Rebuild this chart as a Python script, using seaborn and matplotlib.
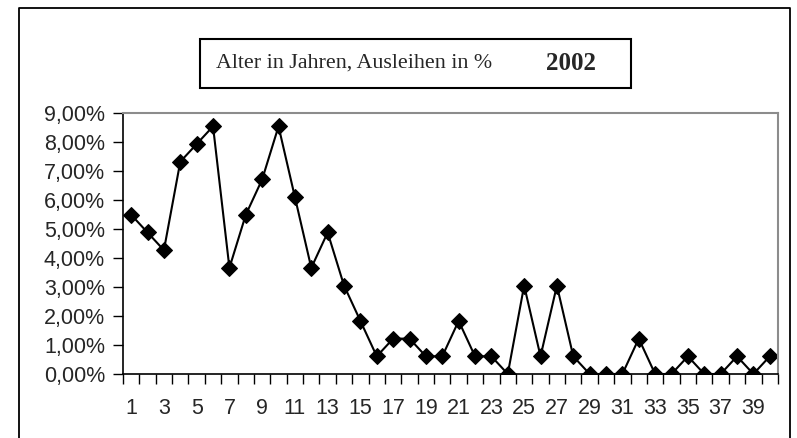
import pandas as pd
import seaborn as sns
import matplotlib.pyplot as plt
from matplotlib.ticker import FuncFormatter, MultipleLocator
from matplotlib.lines import Line2D

# Alter in Jahren und Anteil der Ausleihen (in %)
alter = list(range(1, 41))
ausleihen = [5.49, 4.88, 4.27, 7.32, 7.93, 8.54, 3.66, 5.49, 6.71, 8.54,
             6.10, 3.66, 4.88, 3.05, 1.83, 0.61, 1.22, 1.22, 0.61, 0.61,
             1.83, 0.61, 0.61, 0.00, 3.05, 0.61, 3.05, 0.61, 0.00, 0.00,
             0.00, 1.22, 0.00, 0.00, 0.61, 0.00, 0.00, 0.61, 0.00, 0.61]
jahr = "2002"
titel = "Alter in Jahren, Ausleihen in %"

data = pd.DataFrame({"Alter": alter, "Ausleihen": ausleihen})

sns.set_style("white")
plt.rcParams['font.family'] = ['Liberation Sans', 'DejaVu Sans']

fig = plt.figure(figsize=(7.97, 4.38), dpi=100)
ax = fig.add_axes([0.1543, 0.1461, 0.8218, 0.5959])

sns.lineplot(data=data, x="Alter", y="Ausleihen", ax=ax, color="black",
             marker="D", markersize=8, markeredgecolor="black", linewidth=1.5)

ax.set_xlim(0.5, 40.5)
ax.set_ylim(0, 9)
ax.set_xticks(alter[::2])
ax.xaxis.set_minor_locator(MultipleLocator(1, offset=0.5))
ax.yaxis.set_major_locator(MultipleLocator(1))
ax.yaxis.set_major_formatter(FuncFormatter(lambda v, p: f"{v:.2f}%".replace(".", ",")))
ax.tick_params(axis="x", which="major", length=0, pad=17, labelsize=15.5)
ax.tick_params(axis="x", which="minor", length=7, width=1, direction="out", color="black", bottom=True)
ax.tick_params(axis="y", length=7, width=1, direction="out", color="black", left=True, pad=6, labelsize=15.5)
ax.set_xlabel("")
ax.set_ylabel("")

for s in ["left", "bottom"]:
    ax.spines[s].set_color("black")
    ax.spines[s].set_linewidth(1.2)
for s in ["top", "right"]:
    ax.spines[s].set_color("#8c8c8c")
    ax.spines[s].set_linewidth(1.5)

# outer chart frame
W, H = 797, 438
x0, x1, y0 = 19 / W, 790 / W, 1 - 8 / H
fig.add_artist(Line2D([x0, x0, x1, x1], [0, y0, y0, 0], transform=fig.transFigure,
                      color="black", linewidth=1.3))

# title box
bx0, bx1, by0, by1 = 200 / W, 631 / W, 1 - 88 / H, 1 - 39 / H
fig.add_artist(plt.Rectangle((bx0, by0), bx1 - bx0, by1 - by0, transform=fig.transFigure,
                             fill=False, edgecolor="black", linewidth=1.5))
fig.text(216 / W, 1 - 63 / H, titel, family="Liberation Serif", fontsize=15.8, va="center", ha="left")
fig.text(546 / W, 1 - 63 / H, jahr, family="Liberation Serif", fontsize=18, fontweight="bold",
         va="center", ha="left")

fig.savefig("out.png", dpi=100)
